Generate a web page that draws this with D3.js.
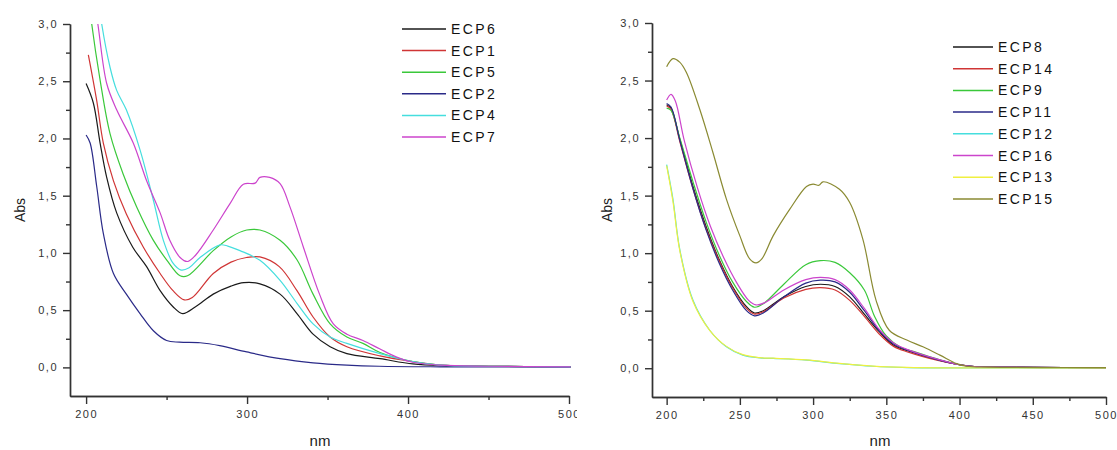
<!DOCTYPE html>
<html>
<head>
<meta charset="utf-8">
<script src="https://cdn.jsdelivr.net/npm/d3@7"></script>
<style>
  body { margin: 0; background: #fff; }
  svg { display: block; font-family: Arial, "Liberation Sans", sans-serif; }
  .tick text { fill: #333; font-size: 11px; letter-spacing: 1.5px; }
  .domain, .tick line { stroke: #333; stroke-width: 1.4; }
</style>
</head>
<body>
<div id="chart"></div>
<script>
// left panel spectra, [nm, Abs]
var ecp6 = [[200,2.48],[204.5,2.31],[208.7,1.96],[212.8,1.66],[219,1.35],[229,1.05],[237.6,0.88],[246,0.67],[254,0.53],[260,0.47],[268,0.53],[279,0.64],[290,0.71],[298,0.74],[308,0.73],[320.5,0.64],[331,0.47],[341,0.29],[351.6,0.18],[362,0.12],[382.6,0.076],[403,0.03],[420,0.015],[450,0.01],[501,0.005]];
var ecp1 = [[201.4,2.73],[206.6,2.33],[210.7,1.96],[217,1.63],[225,1.34],[235.6,1.05],[246,0.82],[254,0.67],[261,0.59],[266,0.61],[279,0.82],[290,0.92],[299.6,0.96],[308,0.965],[320,0.88],[331,0.67],[341,0.44],[351.6,0.265],[362,0.18],[382.6,0.10],[403,0.05],[420,0.02],[450,0.01],[501,0.005]];
var ecp5 = [[200,3.45],[203.5,3.0],[208.7,2.51],[214.9,2.04],[223,1.69],[231.5,1.40],[241.8,1.11],[250,0.94],[258.4,0.80],[263,0.80],[279,1.02],[290,1.14],[299.8,1.20],[308,1.20],[320.5,1.11],[331,0.94],[341,0.64],[351.6,0.38],[362,0.265],[372,0.21],[382.6,0.13],[403,0.05],[420,0.02],[450,0.01],[501,0.005]];
var ecp2 = [[200,2.03],[202.5,1.96],[206.6,1.58],[210.7,1.17],[217,0.82],[225,0.64],[233.5,0.47],[241.8,0.32],[250,0.235],[258,0.22],[270.8,0.215],[283,0.19],[299.8,0.135],[320.5,0.076],[341,0.04],[362,0.02],[382,0.01],[420,0.005],[501,0.003]];
var ecp4 = [[205,3.5],[209.7,3.0],[214.9,2.62],[219,2.42],[225,2.25],[233.5,1.90],[241.8,1.46],[248,1.11],[254,0.91],[259,0.85],[264,0.87],[270.8,0.96],[283.2,1.07],[288,1.06],[295.6,1.02],[308,0.935],[320.5,0.76],[331,0.56],[341,0.38],[351.6,0.265],[362,0.21],[382.6,0.12],[403,0.05],[420,0.02],[450,0.01],[501,0.005]];
var ecp7 = [[203,3.4],[207.3,3.0],[212.8,2.48],[219,2.25],[229.3,1.96],[237.6,1.63],[246,1.35],[252,1.11],[258.4,0.96],[263,0.925],[268,0.98],[279,1.20],[289.4,1.43],[297.7,1.60],[305,1.61],[308,1.66],[314,1.66],[320.5,1.605],[326.7,1.40],[335,1.05],[345,0.64],[353.6,0.38],[362,0.29],[372,0.235],[382.6,0.16],[393,0.09],[403,0.045],[420,0.02],[450,0.01],[501,0.005]];

// right panel spectra
var ecp8  = [[200,2.29],[203,2.26],[209,1.99],[218,1.58],[227,1.23],[236,0.94],[245,0.71],[254.5,0.535],[260,0.48],[266,0.50],[280,0.62],[295,0.71],[305,0.73],[315,0.71],[325,0.62],[335,0.47],[345,0.32],[355,0.20],[365,0.15],[386,0.07],[400,0.03],[410,0.015],[450,0.008],[500,0.005]];
var ecp14 = [[200,2.28],[203,2.25],[209,1.97],[218,1.56],[227,1.21],[236,0.93],[245,0.70],[254.5,0.52],[260,0.47],[266,0.49],[280,0.61],[295,0.685],[305,0.70],[315,0.68],[325,0.59],[335,0.45],[345,0.30],[355,0.19],[365,0.14],[386,0.065],[400,0.03],[410,0.015],[450,0.008],[500,0.005]];
var ecp9  = [[200,2.26],[203,2.24],[209,2.00],[218,1.62],[227,1.27],[236,0.98],[245,0.75],[254.5,0.58],[260,0.53],[266,0.56],[280,0.73],[295,0.90],[305,0.935],[315,0.92],[325,0.83],[335,0.68],[342,0.45],[350,0.28],[360,0.18],[370,0.14],[386,0.075],[400,0.03],[410,0.015],[450,0.008],[500,0.005]];
var ecp11 = [[200,2.30],[203,2.27],[209,1.98],[218,1.56],[227,1.20],[236,0.91],[245,0.68],[254.5,0.50],[260,0.455],[266,0.48],[280,0.62],[295,0.74],[305,0.765],[315,0.75],[325,0.66],[335,0.50],[345,0.33],[355,0.21],[365,0.155],[386,0.07],[400,0.03],[410,0.015],[450,0.008],[500,0.005]];
var ecp12 = [[200,1.77],[204.3,1.47],[209,1.03],[218,0.59],[229.4,0.33],[240.8,0.186],[252,0.114],[263.6,0.09],[272.7,0.085],[295.5,0.07],[318,0.04],[341,0.017],[364,0.006],[400,0.003],[500,0.002]];
var ecp16 = [[200,2.33],[203,2.38],[206,2.32],[212,1.98],[221,1.57],[230,1.23],[239,0.96],[248,0.74],[256,0.59],[261,0.55],[267,0.57],[280,0.68],[295,0.77],[305,0.79],[315,0.77],[325,0.68],[335,0.52],[345,0.34],[355,0.22],[365,0.16],[386,0.075],[400,0.03],[410,0.015],[450,0.008],[500,0.005]];
var ecp13 = [[200,1.76],[204.3,1.45],[209,1.02],[218,0.58],[229.4,0.33],[240.8,0.19],[252,0.118],[263.6,0.092],[272.7,0.087],[295.5,0.072],[318,0.042],[341,0.018],[364,0.007],[400,0.003],[500,0.002]];
var ecp15 = [[200,2.62],[204.3,2.69],[208.9,2.66],[213.5,2.57],[222.6,2.25],[231.6,1.875],[240.8,1.47],[250,1.15],[256.7,0.95],[261,0.915],[265,0.95],[272.7,1.15],[284,1.38],[295.5,1.58],[300,1.60],[304,1.59],[306.8,1.62],[318,1.555],[325,1.44],[334,1.12],[343,0.59],[352,0.33],[364,0.245],[375,0.186],[386.6,0.114],[398,0.04],[404.8,0.017],[420,0.01],[500,0.005]];

var leftNames  = ["ECP6","ECP1","ECP5","ECP2","ECP4","ECP7"];
var leftData   = [ecp6, ecp1, ecp5, ecp2, ecp4, ecp7];
var leftColors = ["#1a1a1a","#d03535","#3ac83a","#2a2a88","#45dede","#cc44cc"];

var rightNames  = ["ECP8","ECP14","ECP9","ECP11","ECP12","ECP16","ECP13","ECP15"];
var rightData   = [ecp8, ecp14, ecp9, ecp11, ecp12, ecp16, ecp13, ecp15];
var rightColors = ["#1a1a1a","#d03535","#3ac83a","#2a2a88","#45dede","#cc44cc","#f0f040","#8a8a32"];

var yMajor = [0, 0.5, 1, 1.5, 2, 2.5, 3];
var yMinor = [0.25, 0.75, 1.25, 1.75, 2.25, 2.75];
var xMajorL = [200, 300, 400, 500], xMinorL = [250, 350, 450];
var xMajorR = [200, 250, 300, 350, 400, 450, 500], xMinorR = [225, 275, 325, 375, 425, 475];

var W = 1117, H = 450;
var svg = d3.select("#chart").append("svg").attr("width", W).attr("height", H);
var comma = function(d) { return d3.format(".1f")(d).replace(".", ","); };

function panel(cfg) {
  var x = d3.scaleLinear().domain([190, 500]).range([cfg.left, cfg.right]);
  var y = d3.scaleLinear().domain([-0.25, 3]).range([cfg.bottom, cfg.top]);
  var root = svg.append("g");
  if (cfg.clipW) {
    svg.append("clipPath").attr("id", cfg.id + "-img")
      .append("rect").attr("x", 0).attr("y", 0).attr("width", cfg.clipW).attr("height", H);
    root.attr("clip-path", "url(#" + cfg.id + "-img)");
  }

  root.append("clipPath").attr("id", cfg.id + "-plot")
    .append("rect").attr("x", cfg.left).attr("y", cfg.top)
    .attr("width", cfg.right - cfg.left + 4).attr("height", cfg.bottom - cfg.top);

  var line = d3.line()
    .x(function(d) { return x(d[0]); })
    .y(function(d) { return y(d[1]); })
    .curve(d3.curveCatmullRom.alpha(0.5));

  root.append("g").attr("clip-path", "url(#" + cfg.id + "-plot)")
    .selectAll("path").data(cfg.data).enter().append("path")
    .attr("d", line)
    .attr("fill", "none")
    .attr("stroke", function(d, i) { return cfg.colors[i]; })
    .attr("stroke-width", 1.2);

  // axes: minor first, then major
  root.append("g").attr("transform", "translate(" + cfg.left + ",0)")
    .call(d3.axisLeft(y).tickValues(yMinor).tickSize(4).tickSizeOuter(0).tickFormat(""));
  root.append("g").attr("transform", "translate(" + cfg.left + ",0)")
    .call(d3.axisLeft(y).tickValues(yMajor).tickSize(7).tickSizeOuter(0).tickPadding(5).tickFormat(comma));
  root.append("g").attr("transform", "translate(0," + cfg.bottom + ")")
    .call(d3.axisBottom(x).tickValues(cfg.xMinor).tickSize(4).tickSizeOuter(0).tickFormat(""));
  root.append("g").attr("transform", "translate(0," + cfg.bottom + ")")
    .call(d3.axisBottom(x).tickValues(cfg.xMajor).tickSize(8).tickSizeOuter(0).tickPadding(6).tickFormat(d3.format("d")));

  root.append("text")
    .attr("transform", "translate(" + cfg.absX + "," + ((cfg.top + cfg.bottom) / 2) + ") rotate(-90)")
    .attr("text-anchor", "middle").attr("dy", "0.35em")
    .attr("font-size", 14).attr("fill", "#222").text("Abs");
  root.append("text")
    .attr("x", cfg.nmX).attr("y", 446)
    .attr("text-anchor", "middle")
    .attr("font-size", 15).attr("fill", "#222").text("nm");

  // legend
  var lg = root.append("g").selectAll("g").data(cfg.names).enter().append("g")
    .attr("transform", function(d, i) { return "translate(" + cfg.legX + "," + (cfg.legY + i * cfg.legStep) + ")"; });
  lg.append("line").attr("x1", 0).attr("x2", cfg.legLen).attr("y1", 0).attr("y2", 0)
    .attr("stroke", function(d, i) { return cfg.colors[i]; }).attr("stroke-width", 1.5);
  lg.append("text").attr("x", cfg.legLen + 5).attr("dy", "0.36em")
    .attr("font-size", 14).attr("letter-spacing", "2.4px").attr("fill", "#111")
    .text(function(d) { return d; });
}

panel({ id: "l", left: 70, right: 569, top: 24, bottom: 396, clipW: 577,
  data: leftData, colors: leftColors, names: leftNames,
  xMajor: xMajorL, xMinor: xMinorL, absX: 20, nmX: 320,
  legX: 402, legY: 29, legStep: 21.6, legLen: 44 });

panel({ id: "r", left: 652, right: 1106, top: 23, bottom: 397,
  data: rightData, colors: rightColors, names: rightNames,
  xMajor: xMajorR, xMinor: xMinorR, absX: 607, nmX: 880,
  legX: 953, legY: 47, legStep: 21.7, legLen: 40 });
</script>
</body>
</html>
